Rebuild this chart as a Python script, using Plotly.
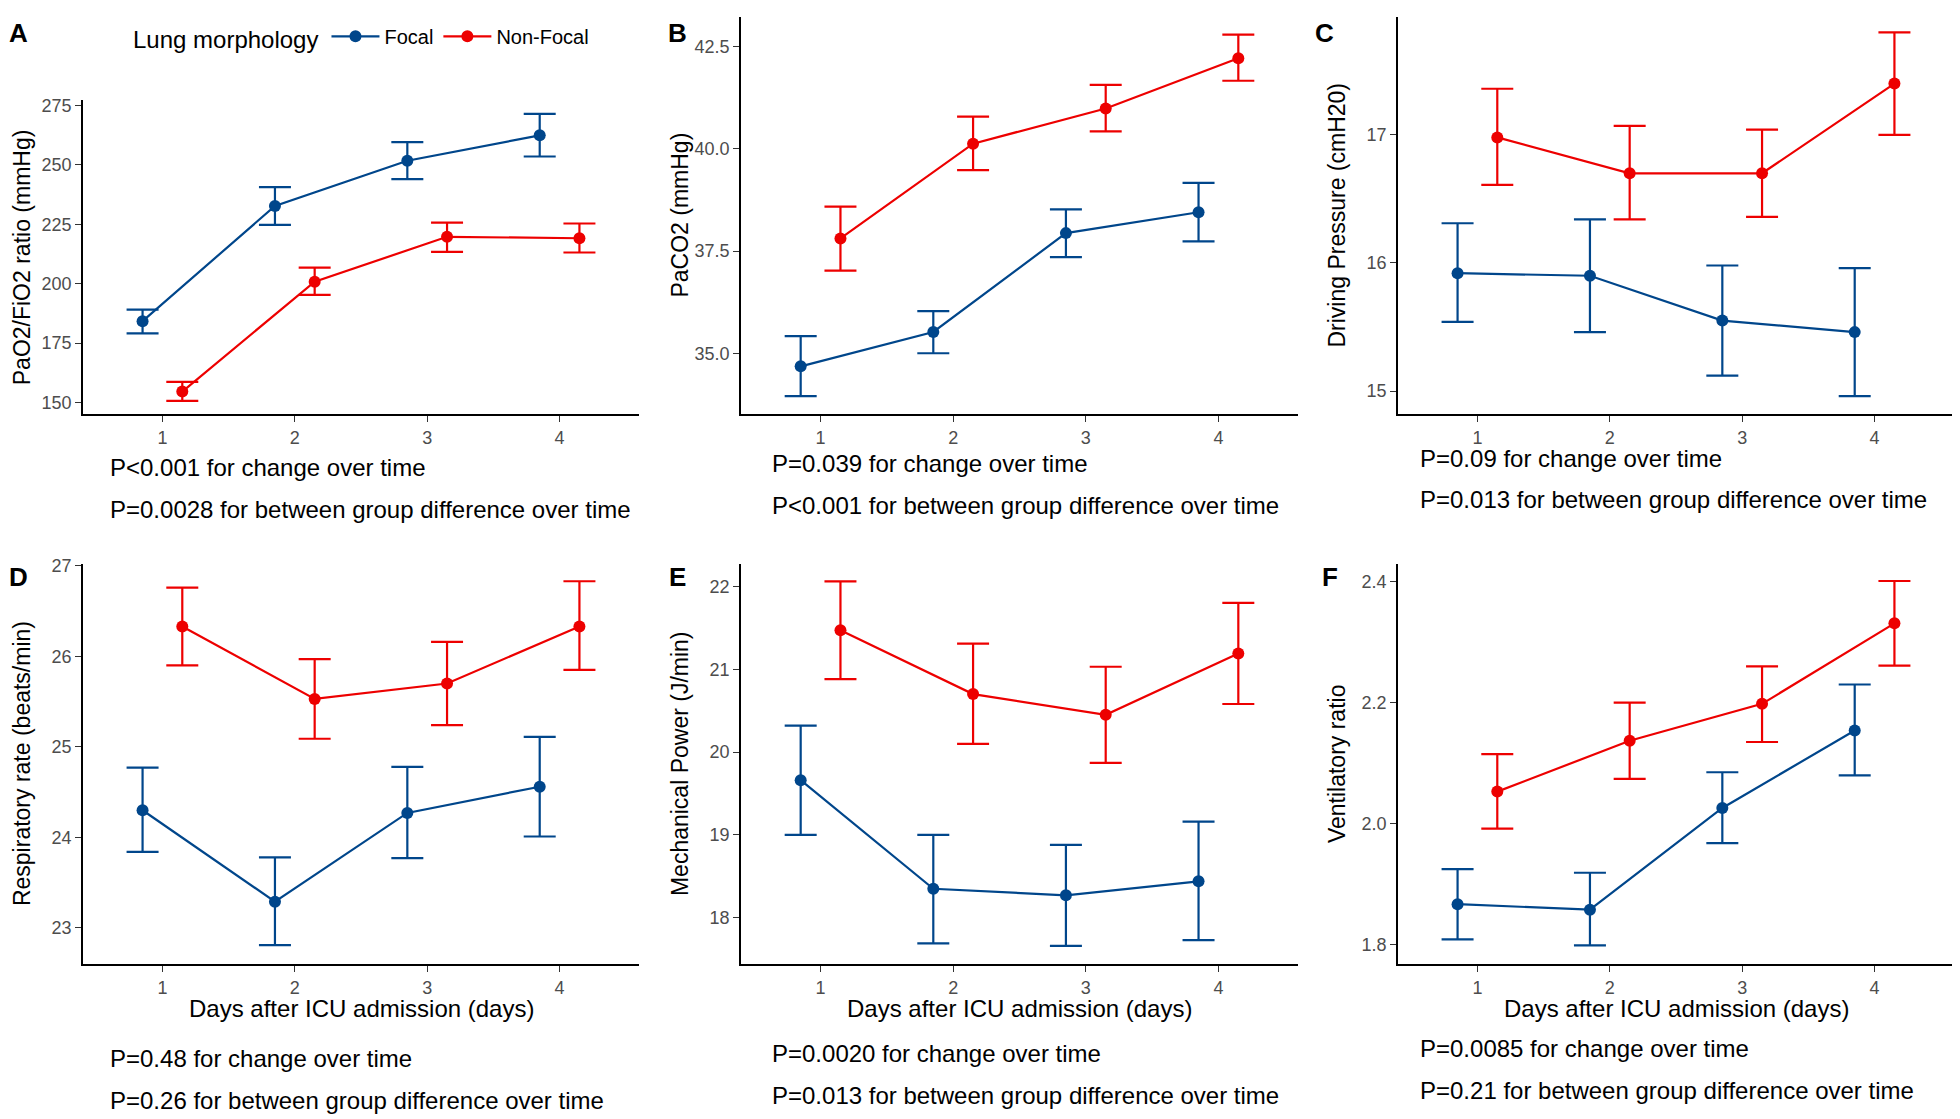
import plotly.graph_objects as go
from plotly.subplots import make_subplots

# ---- data ----
days = [1, 2, 3, 4]
groups = ["Focal", "Non-Focal"]

# A  PaO2/FiO2 ratio
pf_focal_mean = [184.2, 232.7, 251.7, 262.4]
pf_focal_lo = [179.1, 224.7, 244.0, 253.5]
pf_focal_hi = [189.1, 240.6, 259.5, 271.4]
pf_nonfocal_mean = [154.6, 200.8, 219.7, 219.1]
pf_nonfocal_lo = [150.7, 195.3, 213.4, 213.1]
pf_nonfocal_hi = [158.7, 206.7, 225.7, 225.3]

# B  PaCO2
pco2_focal_mean = [34.68, 35.52, 37.94, 38.45]
pco2_focal_lo = [33.95, 35.00, 37.35, 37.74]
pco2_focal_hi = [35.42, 36.03, 38.52, 39.17]
pco2_nonfocal_mean = [37.81, 40.13, 40.99, 42.22]
pco2_nonfocal_lo = [37.02, 39.48, 40.43, 41.67]
pco2_nonfocal_hi = [38.59, 40.79, 41.57, 42.80]

# C  Driving pressure
dp_focal_mean = [15.92, 15.90, 15.55, 15.46]
dp_focal_lo = [15.54, 15.46, 15.12, 14.96]
dp_focal_hi = [16.31, 16.34, 15.98, 15.96]
dp_nonfocal_mean = [16.98, 16.70, 16.70, 17.40]
dp_nonfocal_lo = [16.61, 16.34, 16.36, 17.00]
dp_nonfocal_hi = [17.36, 17.07, 17.04, 17.80]

# D  Respiratory rate
rr_focal_mean = [24.30, 23.29, 24.27, 24.56]
rr_focal_lo = [23.84, 22.81, 23.77, 24.01]
rr_focal_hi = [24.77, 23.78, 24.78, 25.11]
rr_nonfocal_mean = [26.33, 25.53, 25.70, 26.33]
rr_nonfocal_lo = [25.90, 25.09, 25.24, 25.85]
rr_nonfocal_hi = [26.76, 25.97, 26.16, 26.83]

# E  Mechanical power
mp_focal_mean = [19.66, 18.35, 18.27, 18.44]
mp_focal_lo = [19.00, 17.69, 17.66, 17.73]
mp_focal_hi = [20.32, 19.00, 18.88, 19.16]
mp_nonfocal_mean = [21.47, 20.70, 20.45, 21.19]
mp_nonfocal_lo = [20.88, 20.10, 19.87, 20.58]
mp_nonfocal_hi = [22.06, 21.31, 21.03, 21.80]

# F  Ventilatory ratio
vr_focal_mean = [1.867, 1.858, 2.026, 2.154]
vr_focal_lo = [1.809, 1.799, 1.968, 2.080]
vr_focal_hi = [1.925, 1.919, 2.085, 2.230]
vr_nonfocal_mean = [2.053, 2.137, 2.198, 2.331]
vr_nonfocal_lo = [1.992, 2.074, 2.135, 2.261]
vr_nonfocal_hi = [2.115, 2.200, 2.260, 2.401]

panel_letters = ["A", "B", "C", "D", "E", "F"]
y_titles = ["PaO2/FiO2 ratio (mmHg)", "PaCO2 (mmHg)", "Driving Pressure (cmH20)",
            "Respiratory rate (beats/min)", "Mechanical Power (J/min)", "Ventilatory ratio"]
y_ticks = [[150, 175, 200, 225, 250, 275], [35.0, 37.5, 40.0, 42.5], [15, 16, 17],
           [23, 24, 25, 26, 27], [18, 19, 20, 21, 22], [1.8, 2.0, 2.2, 2.4]]
p_time = ["P<0.001 for change over time", "P=0.039 for change over time",
          "P=0.09 for change over time", "P=0.48 for change over time",
          "P=0.0020 for change over time", "P=0.0085 for change over time"]
p_group = ["P=0.0028 for between group difference over time",
           "P<0.001 for between group difference over time",
           "P=0.013 for between group difference over time",
           "P=0.26 for between group difference over time",
           "P=0.013 for between group difference over time",
           "P=0.21 for between group difference over time"]
x_title = "Days after ICU admission (days)"

panels = [
    (pf_focal_mean, pf_focal_lo, pf_focal_hi, pf_nonfocal_mean, pf_nonfocal_lo, pf_nonfocal_hi),
    (pco2_focal_mean, pco2_focal_lo, pco2_focal_hi, pco2_nonfocal_mean, pco2_nonfocal_lo, pco2_nonfocal_hi),
    (dp_focal_mean, dp_focal_lo, dp_focal_hi, dp_nonfocal_mean, dp_nonfocal_lo, dp_nonfocal_hi),
    (rr_focal_mean, rr_focal_lo, rr_focal_hi, rr_nonfocal_mean, rr_nonfocal_lo, rr_nonfocal_hi),
    (mp_focal_mean, mp_focal_lo, mp_focal_hi, mp_nonfocal_mean, mp_nonfocal_lo, mp_nonfocal_hi),
    (vr_focal_mean, vr_focal_lo, vr_focal_hi, vr_nonfocal_mean, vr_nonfocal_lo, vr_nonfocal_hi),
]

# ---- styling / layout (pixels of the 1960x1119 page) ----
# the html body has an 8px margin: the figure starts at (8, 8) and runs to the page edge
OFF = 8
W, H = 1960 - OFF, 1119 - OFF
FONT = "Liberation Sans, Arial, Helvetica, sans-serif"
colors = {"Focal": "#00468B", "Non-Focal": "#ED0000"}
dodge = {"Focal": -0.15, "Non-Focal": 0.15}

# plot-area boxes: (left, right, top, bottom) in page px
boxes = [(83, 639, 93, 409), (741, 1298, 9, 409), (1398, 1954, 9, 409),
         (83, 639, 560, 963), (741, 1298, 560, 963), (1398, 1954, 560, 963)]
y_ranges = [[145.1, 277.1], [33.51, 43.23], [14.82, 17.92],
            [22.60, 27.02], [17.44, 22.27], [1.768, 2.429]]
y_fmt = ["d", ".1f", "d", "d", "d", ".1f"]
# panel letters: (centre x, top y)
letter_pos = [(18, 8), (677, 8), (1324, 8), (18, 556), (677, 556), (1330, 556)]
ptext_pos = [(108, 463, 505), (770, 459, 501), (1418, 454, 495),
             (108, 1058, 1100), (770, 1053, 1095), (1418, 1048, 1090)]


def px_x(x):
    return (x - OFF) / W


def px_y(y):
    return 1 - (y - OFF) / H


fig = make_subplots(rows=2, cols=3)

annotations = []
for i, data in enumerate(panels):
    row, col = i // 3 + 1, i % 3 + 1
    f_mean, f_lo, f_hi, n_mean, n_lo, n_hi = data
    for g, (m, lo, hi) in zip(groups, [(f_mean, f_lo, f_hi), (n_mean, n_lo, n_hi)]):
        fig.add_trace(go.Scatter(
            x=[d + dodge[g] for d in days], y=m, name=g,
            mode="lines+markers",
            line=dict(color=colors[g], width=2.2),
            marker=dict(color=colors[g], size=12),
            error_y=dict(type="data", symmetric=False,
                         array=[h - v for h, v in zip(hi, m)],
                         arrayminus=[v - l for v, l in zip(m, lo)],
                         color=colors[g], thickness=2.2, width=16),
            showlegend=(i == 0), legendgroup=g,
        ), row=row, col=col)

    l, r, t, b = boxes[i]
    xa = "xaxis" if i == 0 else "xaxis%d" % (i + 1)
    ya = "yaxis" if i == 0 else "yaxis%d" % (i + 1)
    fig.layout[xa].update(domain=[px_x(l), min(px_x(r), 1.0)], range=[0.4, 4.6],
                          tickvals=days, ticktext=[str(d) for d in days])
    fig.layout[ya].update(domain=[px_y(b), px_y(t)], range=y_ranges[i],
                          tickvals=y_ticks[i], tickformat=y_fmt[i])

    # y-axis title
    annotations.append(dict(text=y_titles[i], x=px_x(l - 61), y=px_y((t + b) / 2),
                            xref="paper", yref="paper", textangle=-90,
                            xanchor="center", yanchor="middle", showarrow=False,
                            font=dict(size=23, color="black", family=FONT)))
    # x-axis title on bottom row
    if row == 2:
        annotations.append(dict(text=x_title, x=px_x((l + r) / 2), y=px_y(1008),
                                xref="paper", yref="paper", xanchor="center",
                                yanchor="middle", showarrow=False,
                                font=dict(size=24, color="black", family=FONT)))
    # panel letter
    lx, ly = letter_pos[i]
    annotations.append(dict(text="<b>%s</b>" % panel_letters[i], x=px_x(lx), y=px_y(ly),
                            xref="paper", yref="paper", xanchor="center", yanchor="top",
                            showarrow=False, font=dict(size=26, color="black", family=FONT)))
    # p-value notes
    tx, ty1, ty2 = ptext_pos[i]
    for txt, ty in [(p_time[i], ty1), (p_group[i], ty2)]:
        annotations.append(dict(text=txt.replace("<", "&lt;"), x=px_x(tx), y=px_y(ty),
                                xref="paper", yref="paper", xanchor="left",
                                yanchor="middle", showarrow=False,
                                font=dict(size=24, color="black", family=FONT)))

axis_style = dict(showline=True, linecolor="black", linewidth=1.6, ticks="outside",
                  ticklen=6, tickcolor="#333333", tickwidth=1.3, showgrid=False,
                  zeroline=False, tickfont=dict(size=18, color="#4D4D4D", family=FONT))
fig.update_xaxes(**axis_style)
fig.update_yaxes(**axis_style)

fig.update_layout(
    width=W, height=H,
    margin=dict(l=0, r=0, t=0, b=0),
    paper_bgcolor="white", plot_bgcolor="white",
    font=dict(family=FONT, color="black"),
    annotations=annotations,
    legend=dict(orientation="h", x=px_x(131), y=px_y(30), xanchor="left",
                yanchor="middle", title=dict(text="Lung morphology", side="left",
                                             font=dict(size=24)),
                font=dict(size=20), itemwidth=48, bgcolor="rgba(0,0,0,0)"),
)

fig.write_html("out.html")
